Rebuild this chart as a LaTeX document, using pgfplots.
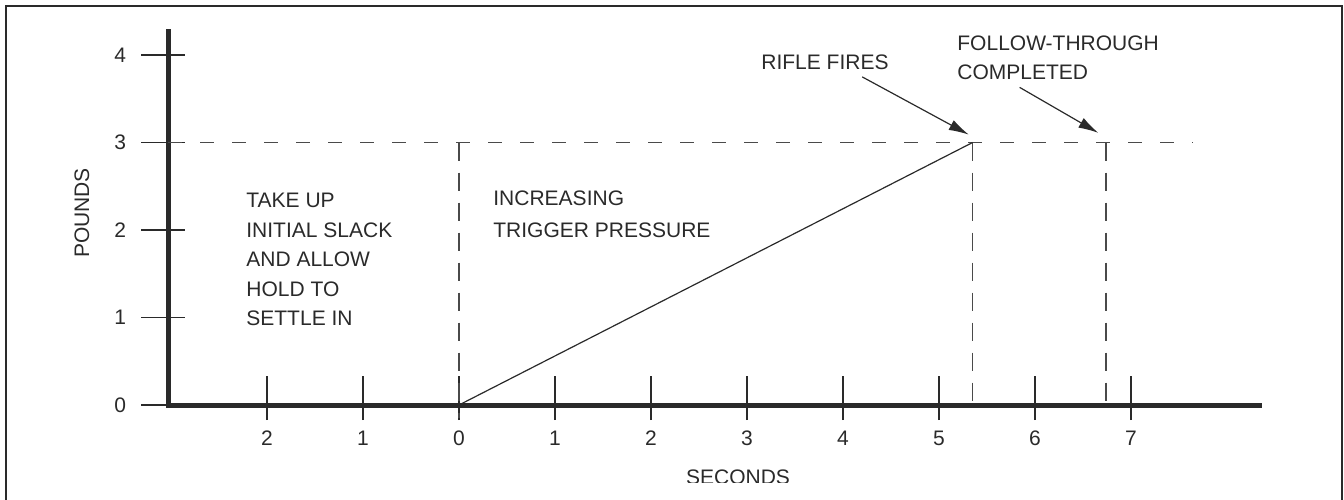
\documentclass[border=0pt]{standalone}
\usepackage{fontspec}
\setmainfont{Liberation Sans}
\usepackage{pgfplots}
\pgfplotsset{compat=1.18}
\usetikzlibrary{arrows.meta}
\definecolor{ink}{HTML}{2A2A2A}
\definecolor{dashc}{HTML}{4A4A4A}
\begin{document}
\begin{tikzpicture}[font=\fontsize{10.5}{12}\selectfont]
\path[use as bounding box] (0,0) rectangle (672pt,249.5pt);
\draw[line width=1pt, ink] (3pt,-5pt) -- (3pt,246.5pt) -- (671pt,246.5pt) -- (671pt,-5pt);
\begin{axis}[
  anchor=origin, at={(229.5pt,47pt)},
  x=48pt, y=43.75pt,
  xmin=-3.03, xmax=8.34, ymin=0, ymax=4.27,
  clip=false,
  axis x line*=bottom, axis y line*=left,
  axis line style={-, line width=2.5pt, ink, line cap=rect},
  xtick={-2,...,7}, xticklabels={2,1,0,1,2,3,4,5,6,7},
  ytick={0,...,4}, yticklabels={0,1,2,3,4},
  tick align=center, major tick length=22pt,
  tick style={line width=0.7pt, ink},
  xtick style={yshift=3.5pt}, ytick style={xshift=-2.5pt},
  ticklabel style={font=\fontsize{10.5}{12}\selectfont, text=ink},
  yticklabel style={xshift=-6.5pt},
  xticklabel style={yshift=1.5pt},
  /pgf/number format/assume math mode=true,
]
\addplot[dashc, line width=0.75pt, dash pattern=on 7pt off 9pt] coordinates {(-3.03,3) (7.65,3)};
\addplot[dashc, line width=0.75pt, dash pattern=on 9pt off 6pt] coordinates {(0,3) (0,-0.15)};
\addplot[dashc, line width=0.75pt, dash pattern=on 9pt off 6pt] coordinates {(5.35,3) (5.35,0)};
\addplot[dashc, line width=0.75pt, dash pattern=on 9pt off 6pt] coordinates {(6.74,3) (6.74,0)};
\addplot[ink, line width=0.6pt] coordinates {(0,0) (5.35,3)};
\draw[ink, line width=0.6pt, -{Latex[length=10pt,width=5.5pt]}] (axis cs:4.20,3.75) -- (axis cs:5.31,3.09);
\draw[ink, line width=0.6pt, -{Latex[length=10pt,width=5.5pt]}] (axis cs:5.84,3.63) -- (axis cs:6.66,3.11);
\end{axis}
\begin{scope}[every node/.style={anchor=base west, inner sep=0pt, text=ink}]
\node at (123pt,145.75pt) {TAKE UP};
\node at (123pt,131pt) {INITIAL SLACK};
\node at (123pt,116.25pt) {AND ALLOW};
\node at (123pt,101.5pt) {HOLD TO};
\node at (123pt,86.75pt) {SETTLE IN};
\node at (246.5pt,146.75pt) {INCREASING};
\node at (246.5pt,130.75pt) {TRIGGER PRESSURE};
\node at (380.5pt,214.75pt) {RIFLE FIRES};
\node at (478.5pt,224.25pt) {FOLLOW-THROUGH};
\node at (478.5pt,209.75pt) {COMPLETED};
\end{scope}
\node[rotate=90, text=ink] at (41pt,143pt) {POUNDS};
\begin{scope}
\clip (0pt,8.5pt) rectangle (672pt,249.5pt);
\node[anchor=base, text=ink, inner sep=0pt] at (369pt,7.5pt) {SECONDS};
\end{scope}
\end{tikzpicture}
\end{document}
